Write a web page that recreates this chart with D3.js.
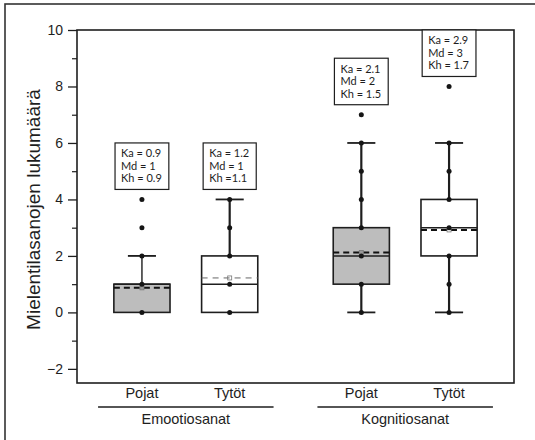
<!DOCTYPE html>
<html><head><meta charset="utf-8">
<script src="https://cdn.jsdelivr.net/npm/d3@7"></script>
<style>html,body{margin:0;padding:0;background:#fff;}svg{display:block;}</style>
</head><body>
<svg id="c" width="535" height="440"></svg>
<script>
// ---- data ----
const categories = ["Pojat", "Tytöt", "Pojat", "Tytöt"];
const groups = ["Emootiosanat", "Kognitiosanat"];
const groupOf = [0, 0, 1, 1];
const positions = [1, 2, 3.5, 4.5];
const q1 = [0, 0, 1, 2];
const medians = [1, 1, 2, 3];
const q3 = [1, 2, 3, 4];
const means = [0.87, 1.22, 2.12, 2.92];
const whiskerLow = [0, 0, 0, 0];
const whiskerHigh = [2, 4, 6, 6];
const points = [
  [0, 1, 2, 3, 4],
  [0, 1, 2, 3, 4],
  [0, 1, 2, 3, 4, 5, 6, 7],
  [0, 1, 2, 3, 4, 5, 6, 8]
];
const shaded = [true, false, true, false];
const statLabels = [
  ["Ka = 0.9", "Md = 1", "Kh = 0.9"],
  ["Ka = 1.2", "Md = 1", "Kh =1.1"],
  ["Ka = 2.1", "Md = 2", "Kh = 1.5"],
  ["Ka = 2.9", "Md = 3", "Kh = 1.7"]
];
const yTicks = [-2, 0, 2, 4, 6, 8, 10];
const yMinor = [-1, 1, 3, 5, 7, 9];
const yTitle = "Mielentilasanojen lukumäärä";

// ---- layout ----
const svg = d3.select("#c");
const L = 77, R = 514, T = 30, B = 383;
const x = d3.scaleLinear().domain([0.26, 5.24]).range([L, R]);
const y = d3.scaleLinear().domain([-2.5, 10]).range([B, T]);
const ink = "#1e1e1e";
const half = x(1.32) - x(1);
const capHalf = half / 2;

// outer frame (right/bottom edges cut off in the picture)
svg.append("rect").attr("x", 5).attr("y", 4).attr("width", 560).attr("height", 460)
  .attr("fill", "none").attr("stroke", "#333").attr("stroke-width", 1.6);

// plot frame
svg.append("rect").attr("x", L).attr("y", T).attr("width", R - L).attr("height", B - T)
  .attr("fill", "none").attr("stroke", ink).attr("stroke-width", 1.6);

// y axis
const yAxis = d3.axisLeft(y).tickValues(yTicks).tickSize(9).tickPadding(5)
  .tickFormat(d => d < 0 ? "\u2212" + String(-d) : String(d));
const ga = svg.append("g").attr("transform", `translate(${L},0)`).call(yAxis);
ga.select(".domain").remove();
ga.selectAll(".tick line").attr("stroke", ink).attr("stroke-width", 1.3);
ga.selectAll(".tick text").attr("font-family", "Liberation Sans, Arial, sans-serif")
  .attr("font-size", 14).attr("fill", ink);
const gm = svg.append("g").attr("transform", `translate(${L},0)`)
  .call(d3.axisLeft(y).tickValues(yMinor).tickSize(5).tickFormat(""));
gm.select(".domain").remove();
gm.selectAll(".tick line").attr("stroke", ink).attr("stroke-width", 1.2);

// y title
svg.append("text")
  .attr("transform", `translate(40,${(T + B) / 2 + 3}) rotate(-90)`)
  .attr("text-anchor", "middle")
  .attr("font-family", "Liberation Sans, Arial, sans-serif")
  .attr("font-size", 19).attr("fill", ink)
  .text(yTitle);

// boxes
categories.forEach((c, i) => {
  const cx = x(positions[i]);
  const g = svg.append("g");
  const wStroke = i === 0 ? 1.6 : 2.2;
  if (whiskerHigh[i] > q3[i]) {
    g.append("line").attr("x1", cx).attr("x2", cx).attr("y1", y(q3[i])).attr("y2", y(whiskerHigh[i]))
      .attr("stroke", i === 0 ? "#3a3a3a" : ink).attr("stroke-width", wStroke);
    g.append("line").attr("x1", cx - capHalf).attr("x2", cx + capHalf)
      .attr("y1", y(whiskerHigh[i])).attr("y2", y(whiskerHigh[i]))
      .attr("stroke", ink).attr("stroke-width", 1.8);
  }
  if (whiskerLow[i] < q1[i]) {
    g.append("line").attr("x1", cx).attr("x2", cx).attr("y1", y(q1[i])).attr("y2", y(whiskerLow[i]))
      .attr("stroke", ink).attr("stroke-width", wStroke);
    g.append("line").attr("x1", cx - capHalf).attr("x2", cx + capHalf)
      .attr("y1", y(whiskerLow[i])).attr("y2", y(whiskerLow[i]))
      .attr("stroke", ink).attr("stroke-width", 1.8);
  }
  g.append("rect").attr("x", cx - half).attr("width", 2 * half)
    .attr("y", y(q3[i])).attr("height", y(q1[i]) - y(q3[i]))
    .attr("fill", shaded[i] ? "#bdbdbd" : "#fff")
    .attr("stroke", ink).attr("stroke-width", 1.6);
  g.append("line").attr("x1", cx - half).attr("x2", cx + half)
    .attr("y1", y(medians[i])).attr("y2", y(medians[i]))
    .attr("stroke", ink).attr("stroke-width", 1.5);
  const thin = i === 1;
  g.append("line").attr("x1", cx - half).attr("x2", cx + half)
    .attr("y1", y(means[i])).attr("y2", y(means[i]))
    .attr("stroke", thin ? "#666" : "#111").attr("stroke-width", thin ? 1 : 2)
    .attr("stroke-dasharray", thin ? "6,5" : "6,4");
  g.append("rect").attr("x", cx - 2).attr("y", y(means[i]) - 2).attr("width", 4).attr("height", 4)
    .attr("fill", shaded[i] ? "#999" : "none").attr("stroke", "#777").attr("stroke-width", 0.8);
  g.selectAll("circle").data(points[i]).join("circle")
    .attr("cx", cx).attr("cy", d => y(d)).attr("r", 2.5).attr("fill", "#151515");
  // stat label box
  const top = y(d3.max(points[i])) - 10 - 46.5;
  const tg = svg.append("g");
  const texts = tg.selectAll("text").data(statLabels[i]).join("text")
    .attr("x", 0).attr("y", (d, k) => top + 14.5 + k * 12.5)
    .attr("font-family", "Lato, Carlito, sans-serif").attr("font-size", 11).attr("fill", ink)
    .text(d => d);
  let w = 0;
  texts.each(function () { w = Math.max(w, this.getComputedTextLength()); });
  const bw = w + 13;
  const bx = cx - bw / 2;
  texts.attr("x", bx + 6);
  tg.insert("rect", "text").attr("x", bx).attr("y", top).attr("width", bw).attr("height", 46.5)
    .attr("fill", "#fff").attr("stroke", ink).attr("stroke-width", 1.2);
});

// x category labels
svg.append("g").selectAll("text").data(categories).join("text")
  .attr("x", (d, i) => x(positions[i])).attr("y", 398)
  .attr("text-anchor", "middle").attr("font-family", "Liberation Sans, Arial, sans-serif")
  .attr("font-size", 14.5).attr("fill", ink).text(d => d);

// group lines and labels
groups.forEach((gname, gi) => {
  const ps = positions.filter((p, i) => groupOf[i] === gi);
  const x0 = x(d3.min(ps) - 0.5), x1 = x(d3.max(ps) + 0.5);
  svg.append("line").attr("x1", x0).attr("x2", x1).attr("y1", 407).attr("y2", 407)
    .attr("stroke", ink).attr("stroke-width", 1.6);
  svg.append("text").attr("x", (x0 + x1) / 2).attr("y", 424)
    .attr("text-anchor", "middle").attr("font-family", "Liberation Sans, Arial, sans-serif")
    .attr("font-size", 14.5).attr("fill", ink).text(gname);
});
</script>
</body></html>
